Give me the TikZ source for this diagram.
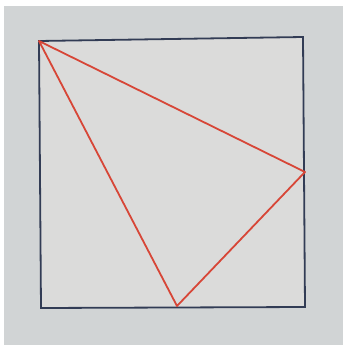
\documentclass[tikz,border=0pt]{standalone}
\definecolor{bgc}{RGB}{209,212,213}
\definecolor{paper}{RGB}{219,219,218}
\definecolor{edge}{RGB}{50,60,85}
\definecolor{redl}{RGB}{215,70,55}
\tikzset{sq/.style={draw=edge,line width=1.8pt,fill=paper,line join=miter},
  tri/.style={draw=redl,line width=1.8pt,line join=round}}
\begin{document}
\begin{tikzpicture}[x=1pt,y=-1pt]
\useasboundingbox (0,0) rectangle (343,345);
\fill[white] (0,0) rectangle (343,345);
\fill[bgc] (4,6) rectangle (343,345);
\coordinate (A) at (39,41);
\coordinate (B) at (303,37);
\coordinate (C) at (305,307);
\coordinate (D) at (41,308);
\coordinate (E) at (305,172);
\coordinate (F) at (177,306);
\draw[sq] (A) -- (B) -- (C) -- (D) -- cycle;
\draw[tri] (A) -- (E) -- (F) -- cycle;
\end{tikzpicture}
\end{document}
